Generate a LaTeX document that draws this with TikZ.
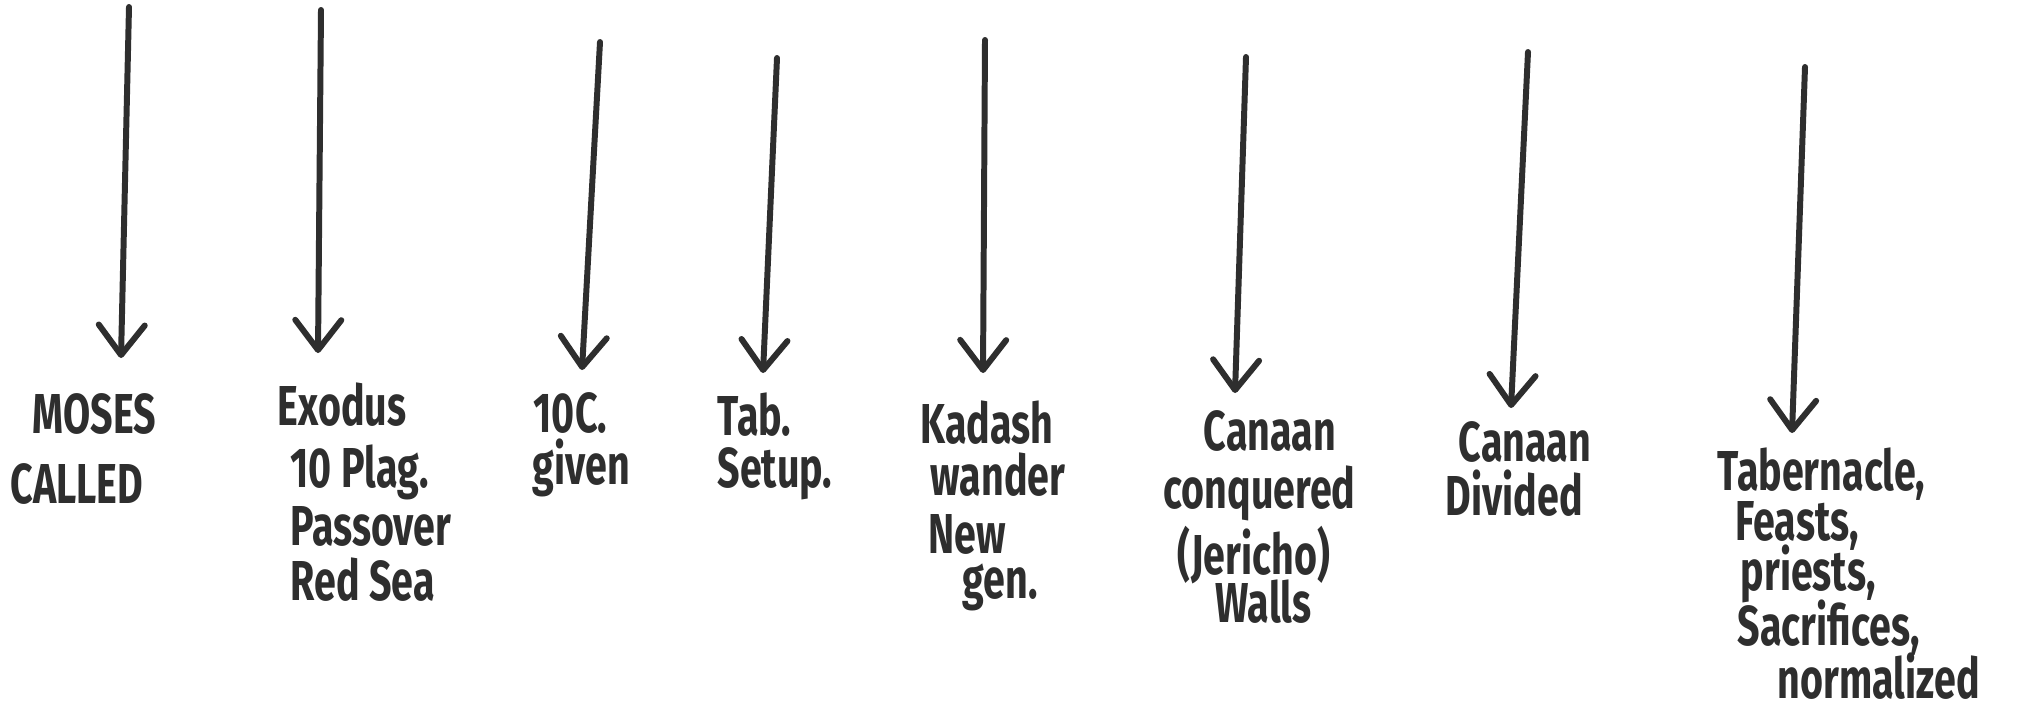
\documentclass[tikz,border=0pt]{standalone}
\usepackage{fontspec}
\setmainfont{Fira Sans}[FakeStretch=0.7]
\usetikzlibrary{arrows.meta}
\definecolor{ink}{HTML}{2E2E2E}
\begin{document}
\begin{tikzpicture}[x=0.01cm,y=-0.01cm,
  lbl/.style={inner sep=0pt,anchor=base west,text=ink,font=\fontsize{16}{16}\selectfont\bfseries},
  conn/.style={draw=ink,line width=1.7pt,line cap=round,-{Straight Barb[length=3mm,width=4.6mm,round]}}]
\useasboundingbox[fill=white] (0,0) rectangle (2027,709);
% top ends and tips of the arrows
\coordinate (t1) at (129,7);    \coordinate (h1) at (121,358);
\coordinate (t2) at (321,10);   \coordinate (h2) at (318,353);
\coordinate (t3) at (600,42);   \coordinate (h3) at (582,370);
\coordinate (t4) at (777,58);   \coordinate (h4) at (763,373);
\coordinate (t5) at (985,40);   \coordinate (h5) at (983,373);
\coordinate (t6) at (1246,57);  \coordinate (h6) at (1235,393);
\coordinate (t7) at (1528,52);  \coordinate (h7) at (1511,408);
\coordinate (t8) at (1805,67);  \coordinate (h8) at (1792,433);
\foreach \i in {1,...,8} \draw[conn] (t\i) -- (h\i);
% labels
\node[lbl] (m1) at (32,433) {MOSES};
\node[lbl] (m2) at (10,503) {CALLED};
\node[lbl] (e1) at (277,425) {Exodus};
\node[lbl] (e2) at (290,487) {10 Plag.};
\node[lbl] (e3) at (290,545) {Passover};
\node[lbl] (e4) at (290,600) {Red Sea};
\node[lbl] (c1) at (533,432) {10C.};
\node[lbl] (c2) at (532,484) {given};
\node[lbl] (b1) at (717,435) {Tab.};
\node[lbl] (b2) at (717,487) {Setup.};
\node[lbl] (k1) at (920,443) {Kadash};
\node[lbl] (k2) at (930,495) {wander};
\node[lbl] (k3) at (928,553) {New};
\node[lbl] (k4) at (962,598) {gen.};
\node[lbl] (q1) at (1203,450) {Canaan};
\node[lbl] (q2) at (1163,508) {conquered};
\node[lbl] (q3) at (1177,574) {(Jericho)};
\node[lbl] (q4) at (1215,622) {Walls};
\node[lbl] (d1) at (1458,461) {Canaan};
\node[lbl] (d2) at (1445,515) {Divided};
\node[lbl] (n1) at (1717,490) {Tabernacle,};
\node[lbl] (n2) at (1735,540) {Feasts,};
\node[lbl] (n3) at (1740,590) {priests,};
\node[lbl] (n4) at (1737,645) {Sacrifices,};
\node[lbl] (n5) at (1777,698) {normalized};
\end{tikzpicture}
\end{document}
